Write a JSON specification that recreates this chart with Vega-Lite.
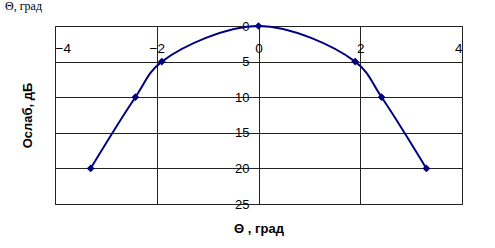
{
  "$schema": "https://vega.github.io/schema/vega-lite/v6.json",
  "autosize": "none",
  "width": 407,
  "height": 178,
  "padding": {"left": 55, "top": 26, "right": 33, "bottom": 44},
  "background": "white",
  "title": {
    "text": "Θ, град",
    "font": "Liberation Serif",
    "fontSize": 12,
    "fontWeight": "normal",
    "anchor": "start",
    "frame": "group",
    "dx": -50,
    "offset": 7,
    "color": "black"
  },
  "config": {
    "view": {"stroke": "#444", "strokeWidth": 1},
    "font": "Liberation Sans"
  },
  "data": {
    "values": [
      {"theta": -3.3, "atten": 20},
      {"theta": -2.42, "atten": 10},
      {"theta": -1.9, "atten": 5},
      {"theta": 0, "atten": 0},
      {"theta": 1.9, "atten": 5},
      {"theta": 2.42, "atten": 10},
      {"theta": 3.3, "atten": 20}
    ]
  },
  "encoding": {
    "x": {
      "field": "theta",
      "type": "quantitative",
      "scale": {"domain": [-4, 4], "nice": false, "zero": false},
      "axis": {
        "orient": "bottom",
        "offset": -178,
        "values": [-4, -2, 0, 2, 4],
        "title": "Θ , град",
        "titleFontSize": 13,
        "titleFontWeight": "bold",
        "titleColor": "black",
        "titleY": 196,
        "labelFontSize": 13.5,
        "labelColor": "black",
        "labelPadding": 15,
        "ticks": false,
        "domain": false,
        "grid": true,
        "gridColor": "#222",
        "gridOpacity": 1
      }
    },
    "y": {
      "field": "atten",
      "type": "quantitative",
      "scale": {"domain": [0, 25], "reverse": true, "nice": false},
      "axis": {
        "orient": "left",
        "offset": -204,
        "values": [0, 5, 10, 15, 20, 25],
        "title": "Ослаб, дБ",
        "titleFontSize": 13,
        "titleFontWeight": "bold",
        "titleColor": "black",
        "titleX": -225,
        "titleY": 89,
        "labelFontSize": 13,
        "labelColor": "black",
        "labelPadding": 10,
        "ticks": false,
        "domain": false,
        "grid": true,
        "gridColor": "#222",
        "gridOpacity": 1
      }
    }
  },
  "layer": [
    {
      "mark": {"type": "line", "interpolate": "catmull-rom", "color": "#000080", "strokeWidth": 2}
    },
    {
      "mark": {"type": "point", "shape": "diamond", "filled": true, "color": "#000080", "size": 60, "opacity": 1}
    }
  ]
}
